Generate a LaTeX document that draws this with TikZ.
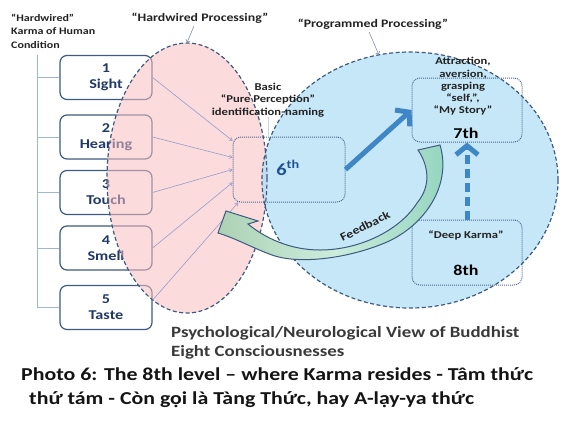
\documentclass[tikz,border=0pt]{standalone}
\usepackage{fontspec}
\setmainfont{Carlito}[FakeStretch=1.2]
\usetikzlibrary{arrows.meta}
\usetikzlibrary{shapes.geometric}
\definecolor{mnavy}{RGB}{31,56,104}
\definecolor{mrim}{RGB}{61,90,130}
\definecolor{mdot}{RGB}{78,106,148}
\definecolor{mpink}{RGB}{247,190,190}
\definecolor{mcyan}{RGB}{175,222,244}
\definecolor{marrow}{RGB}{62,134,198}
\definecolor{mthin}{RGB}{152,156,204}
\definecolor{mbracket}{RGB}{160,181,206}
\definecolor{mteal}{RGB}{146,212,190}
\definecolor{mmint}{RGB}{204,236,220}
\definecolor{mleaf}{RGB}{172,210,180}
\definecolor{msix}{RGB}{30,82,152}
\definecolor{mink}{RGB}{35,35,35}
\tikzset{
  txt/.style      = {inner sep=0pt, align=center, text=mink},
  smalltxt/.style = {txt, font=\fontsize{10.5}{12.3}\selectfont\bfseries},
  titletxt/.style = {txt, font=\fontsize{11.5}{13}\selectfont\bfseries},
  bigtxt/.style   = {txt, text=black, font=\fontsize{15}{17}\selectfont\bfseries},
  sixtxt/.style   = {txt, text=msix, font=\fontsize{17}{19}\selectfont\bfseries},
  sensebox/.style = {draw=mrim, line width=1.2pt, rounded corners=7pt,
                     minimum width=92pt, minimum height=44pt, inner sep=0pt,
                     align=center, text=mnavy,
                     font=\fontsize{13.5}{16}\selectfont\bfseries},
  dotbox/.style   = {draw=mdot, densely dotted, line width=1pt, rounded corners=8pt},
  hwell/.style    = {ellipse, fill=mpink, fill opacity=0.55, minimum width=160pt,
                     minimum height=270pt, inner sep=0pt},
  pgell/.style    = {ellipse, fill=mcyan, fill opacity=0.72, minimum width=296pt,
                     minimum height=256pt, inner sep=0pt},
  rim/.style      = {draw=mrim, line width=1.2pt, dash pattern=on 4pt off 2.5pt},
  bracket/.style  = {draw=mbracket, line width=0.9pt},
  sensearrow/.style = {draw=mthin, line width=0.6pt, -{To[length=3.5pt,width=4pt]}},
  pointer/.style  = {draw=mbracket!80!black, line width=0.6pt,
                     -{Straight Barb[length=2.5pt,width=4.5pt]}},
  bluearrow/.style = {draw=marrow, line width=5pt,
                      -{Straight Barb[length=9pt,width=22pt]}},
  feedback/.style = {draw=mrim, line width=1pt, left color=mleaf,
                     right color=mteal, middle color=mmint},
  captxt/.style   = {txt, anchor=west, text=black!92,
                     font=\fontsize{18.2}{21}\selectfont\bfseries}
}

\begin{document}
\begin{tikzpicture}[x=1pt, y=-1pt]
  \useasboundingbox (0,0) rectangle (569,432);

  % senses on the left
  \coordinate (spinetop) at (37,55);
  \coordinate (spinebot) at (37,307.5);
  \draw[bracket] (spinetop) -- (spinebot);
  \node[sensebox] (sight)   at (106,77.5)  {1\\Sight};
  \node[sensebox] (hearing) at (106,137)   {2\\Hearing};
  \node[sensebox] (touch)   at (106,192.5) {3\\Touch};
  \node[sensebox] (smell)   at (106,248)   {4\\Smell};
  \node[sensebox] (taste)   at (106,307.5) {5\\Taste};
  \draw[bracket] (sight.west) -- (sight.west -| spinetop);
  \draw[bracket] (hearing.west) -- (hearing.west -| spinetop);
  \draw[bracket] (touch.west) -- (touch.west -| spinetop);
  \draw[bracket] (smell.west) -- (smell.west -| spinetop);
  \draw[bracket] (taste.west) -- (taste.west -| spinetop);

  % the two processing areas
  \node[hwell] (hardwired)  at (187,178) {};
  \node[pgell] (programmed) at (410,180) {};
  \draw[rim] (hardwired.center) ellipse [x radius=80pt, y radius=135pt];
  \draw[rim] (programmed.center) ellipse [x radius=148pt, y radius=128pt];

  % 6th
  \node[dotbox, minimum width=112pt, minimum height=65pt] (sixth) at (289,169.5) {};
  \node[sixtxt] (sixlbl) at (288,168) {6\textsuperscript{th}};
  \node[smalltxt] (basiclbl) at (268,100)
    {Basic\\“Pure Perception”\\identification-naming};
  \draw[draw=mbracket!60, line width=0.6pt] (basiclbl.south) -- (basiclbl.south |- sixth.north);

  \draw[sensearrow] (sight.east)   -- (sixth.153);
  \draw[sensearrow] (hearing.east) -- (sixth.168);
  \draw[sensearrow] (touch.east)   -- (sixth.180);
  \draw[sensearrow] (smell.east)   -- (sixth.193);
  \draw[sensearrow] (taste.9)      -- (sixth.213);

  % 7th and 8th
  \node[dotbox, minimum width=110pt, minimum height=64pt] (seventh) at (467,110) {};
  \node[smalltxt] (attrlbl) at (463,86.5)
    {Attraction,\\aversion,\\grasping\\“self,”,\\“My Story”};
  \node[bigtxt] (sevenlbl) at (466,133) {7th};
  \node[dotbox, minimum width=110pt, minimum height=65pt] (eighth) at (467,252.5) {};
  \node[smalltxt] (deeplbl) at (466,235) {“Deep Karma”};
  \node[bigtxt] (eightlbl) at (466,270) {8th};

  \draw[bluearrow] (sixth.east) -- (seventh.west);
  \draw[bluearrow, dash pattern=on 9pt off 5pt] (eighth.north) -- (seventh.south);

  % feedback
  \path[feedback] (418,150) -- (440,145)
    .. controls (452,185) and (425,225) .. (387,242)
    .. controls (350,258) and (300,265) .. (272,255)
    .. controls (255,249) and (235,238) .. (218,233)
    -- (226,211) -- (258,221) -- (248,224)
    .. controls (265,238) and (290,250) .. (320,250)
    .. controls (360,250) and (400,230) .. (417,203)
    .. controls (432,185) and (428,165) .. (418,150) -- cycle;
  \node[smalltxt, font=\fontsize{11.5}{13}\selectfont\bfseries, rotate=27]
    (fblbl) at (365,226) {Feedback};

  % titles
  \node[smalltxt, anchor=west, align=left, font=\fontsize{10}{13.5}\selectfont\bfseries]
    (karmattl) at (11,31) {“Hardwired”\\Karma of Human\\Condition};
  \node[titletxt] (hwttl) at (200,18) {“Hardwired Processing”};
  \node[titletxt] (pgttl) at (373,24) {“Programmed Processing”};
  \draw[pointer, shorten <=3pt] ([xshift=-5pt]hwttl.south) -- (hardwired.north);
  \draw[pointer, shorten <=3pt] ([xshift=-5pt]pgttl.south) -- (programmed.104);

  \node[txt, anchor=west, align=left, text=mink!90,
        font=\fontsize{15.7}{19}\selectfont\bfseries]
    (psychttl) at (171,342.5)
    {Psychological/Neurological View of Buddhist\\Eight Consciousnesses};
  \node[captxt] (capline1) at (21,374)
    {Photo 6: The 8th level – where Karma resides - Tâm thức};
  \node[captxt] (capline2) at (29,400)
    {thứ tám - Còn gọi là Tàng Thức, hay A-lạy-ya thức};
\end{tikzpicture}
\end{document}
